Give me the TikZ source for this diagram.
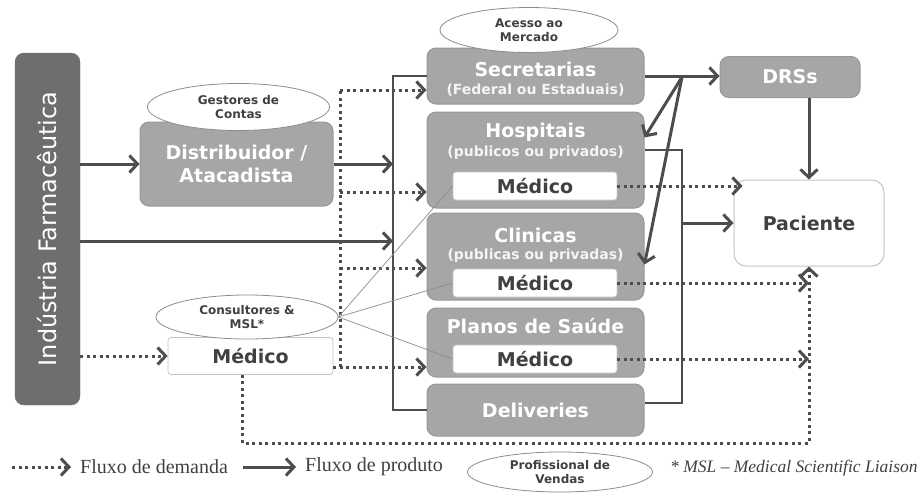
\documentclass[tikz,border=0pt]{standalone}
\usepackage{fontspec}
\setmainfont{Liberation Serif}
\setsansfont{DejaVu Sans}
\usepackage{tikz}
\usetikzlibrary{arrows.meta,shapes.geometric,positioning}
\definecolor{boxgray}{HTML}{A6A6A6}
\definecolor{boxline}{HTML}{979797}
\definecolor{indgray}{HTML}{6E6E6E}
\definecolor{arrgray}{HTML}{4D4D4D}
\definecolor{medline}{HTML}{C4C4C4}
\definecolor{ovalline}{HTML}{8C8C8C}
\definecolor{txtgray}{HTML}{404040}

\begin{document}
\begin{tikzpicture}[x=1pt,y=-1pt,
	box/.style={draw=boxline, fill=boxgray, line width=1pt, rounded corners=9pt, minimum width=217pt, inner sep=0pt, text=white, align=center, font=\sffamily\bfseries\fontsize{19}{23}\selectfont},
	boxtitle/.style={text=white, inner sep=0pt, font=\sffamily\bfseries\fontsize{19}{23}\selectfont},
	boxsub/.style={text=white!92!gray, inner sep=0pt, font=\sffamily\bfseries\fontsize{14}{16}\selectfont},
	medbox/.style={draw=medline, fill=white, line width=0.8pt, rounded corners=3pt, minimum width=164pt, minimum height=28pt, inner sep=0pt, text=txtgray, font=\sffamily\bfseries\fontsize{19}{23}\selectfont},
	oval/.style={ellipse, draw=ovalline, fill=white, line width=0.8pt, inner sep=0pt, text=txtgray, align=center, font=\sffamily\bfseries\fontsize{12}{14.5}\selectfont},
	prod/.style={draw=arrgray, line width=3pt, -{Straight Barb[length=8pt,width=17pt]}},
	dem/.style={prod, dash pattern=on 3pt off 3.5pt},
	demline/.style={draw=arrgray, line width=3pt, dash pattern=on 3pt off 3.5pt},
	bracket/.style={draw=arrgray, line width=1.8pt},
	thinline/.style={draw=ovalline, line width=0.7pt},
	legtext/.style={text=txtgray, inner sep=0pt, inner xsep=9pt, font=\fontsize{20}{23}\selectfont}
	]
	\useasboundingbox (0,0) rectangle (924,493);

	% industria e distribuidor
	\node[draw=indgray, fill=indgray, rounded corners=9pt, minimum width=65pt, minimum height=352pt, inner sep=0pt, text=white, font=\sffamily\fontsize{24}{26}\selectfont] (ind) at (47.5,229) {\rotatebox{90}{Indústria Farmacêutica}};
	\node[box, minimum width=193pt, minimum height=84pt] (dist) at (236.5,164) {Distribuidor /\\Atacadista};
	\node[oval, minimum width=182pt, minimum height=47pt] (gest) at (238.5,107) {Gestores de\\Contas};

	% mercado
	\node[box, minimum height=56pt] (sec) at (535.5,76) {};
	\node[boxtitle] (sec-t) at (535.5,69) {Secretarias};
	\node[boxsub] (sec-s) at (535.5,90) {(Federal ou Estaduais)};
	\node[oval, minimum width=178pt, minimum height=45pt] (acc) at (529,30) {Acesso ao\\Mercado};

	\node[box, minimum height=96pt] (hosp) at (535.5,160) {};
	\node[boxtitle] (hosp-t) at (535.5,132) {Hospitais};
	\node[boxsub] (hosp-s) at (535.5,153) {(publicos ou privados)};
	\node[medbox] (med1) at (535,186) {Médico};

	\node[box, minimum height=87pt] (clin) at (535.5,256.5) {};
	\node[boxtitle] (clin-t) at (535.5,235) {Clinicas};
	\node[boxsub] (clin-s) at (535.5,256) {(publicas ou privadas)};
	\node[medbox] (med2) at (535,283) {Médico};

	\node[box, minimum height=69pt] (plan) at (535.5,342.5) {};
	\node[boxtitle] (plan-t) at (535.5,326) {Planos de Saúde};
	\node[medbox] (med3) at (535,359) {Médico};

	\node[box, minimum height=52pt] (deliv) at (535.5,410) {Deliveries};

	\node[box, minimum width=140pt, minimum height=41pt] (drs) at (790,77) {DRSs};
	\node[draw=medline, fill=white, line width=1pt, rounded corners=12pt, minimum width=150pt, minimum height=86pt, text=txtgray, font=\sffamily\bfseries\fontsize{19}{23}\selectfont] (pac) at (809,223) {Paciente};

	% consultores
	\node[medbox, minimum width=165pt, minimum height=37pt] (medL) at (250.5,356) {Médico};
	\node[oval, minimum width=182pt, minimum height=44pt] (cons) at (247,317) {Consultores \&\\MSL*};

	\coordinate (brx) at (393,0);
	\coordinate (bx) at (682,0);
	\coordinate (sp) at (682,77);
	\coordinate (d1) at (340,90);
	\coordinate (d2) at (340,192);
	\coordinate (d3) at (340,268);
	\coordinate (d4) at (340,367);
	\coordinate (bot) at (0,443);

	% fluxo de produto
	\draw[bracket] (sec.west) -- (sec.west -| brx) -- (brx |- deliv.west) -- (deliv.west);
	\draw[bracket] ([yshift=10pt]hosp.east) -- ([yshift=10pt]hosp.east -| bx) -- ([yshift=7pt]deliv.east -| bx) -- ([yshift=7pt]deliv.east);
	\draw[prod] (ind.east |- dist.west) -- (dist.west);
	\draw[prod] (dist.east) -- (dist.east -| brx);
	\draw[prod] ([yshift=-12pt]ind.east) -- ([yshift=-12pt]ind.east -| brx);
	\draw[prod] (sec.east) -- (sec.east -| drs.west);
	\draw[prod] (sp) -- ([yshift=-26pt]hosp.north east);
	\draw[prod] (sp) -- ([yshift=-8pt]clin.east);
	\draw[prod] (drs.south -| pac.north) -- (pac.north);
	\draw[prod] (bx |- pac.west) -- (pac.west);

	% fluxo de demanda
	\draw[dem] (ind.east |- medL.west) -- (medL.west);
	\draw[demline] (d4) -- (d1);
	\draw[dem] (d1) -- (d1 -| sec.west);
	\draw[dem] (d2) -- (d2 -| hosp.west);
	\draw[dem] (d3) -- (d3 -| clin.west);
	\draw[dem] (medL.east |- d4) -- (d4 -| plan.west);
	\draw[dem] (med1.east) -- ([xshift=9pt]med1.east -| pac.west);
	\draw[dem] (med2.east) -- (med2.east -| pac.south);
	\draw[dem] (med3.east) -- (med3.east -| pac.south);
	\draw[dem] ([xshift=-8pt]medL.south) -- ([xshift=-8pt]medL.south |- bot) -- (pac.south |- bot) -- (pac.south);

	\draw[thinline] (cons.east) -- (med1.west);
	\draw[thinline] (cons.east) -- (med2.west);
	\draw[thinline] (cons.east) -- (med3.west);

	% legenda
	\coordinate (ld0) at (12,467);
	\node[legtext, anchor=west] (ldem) at (71,467) {Fluxo de demanda};
	\draw[dem] (ld0) -- (ldem.west);
	\coordinate (lp0) at (243,467);
	\node[legtext, anchor=west] (lprod) at (296,467) {Fluxo de produto};
	\draw[prod] (lp0) -- (lprod.west);
	\node[oval, minimum width=185pt, minimum height=40pt] (lvend) at (560,472) {Profissional de\\Vendas};
	\node[legtext, anchor=west, font=\itshape\fontsize{17.5}{20}\selectfont] (lmsl) at (661,468) {* MSL – Medical Scientific Liaison};
\end{tikzpicture}
\end{document}
